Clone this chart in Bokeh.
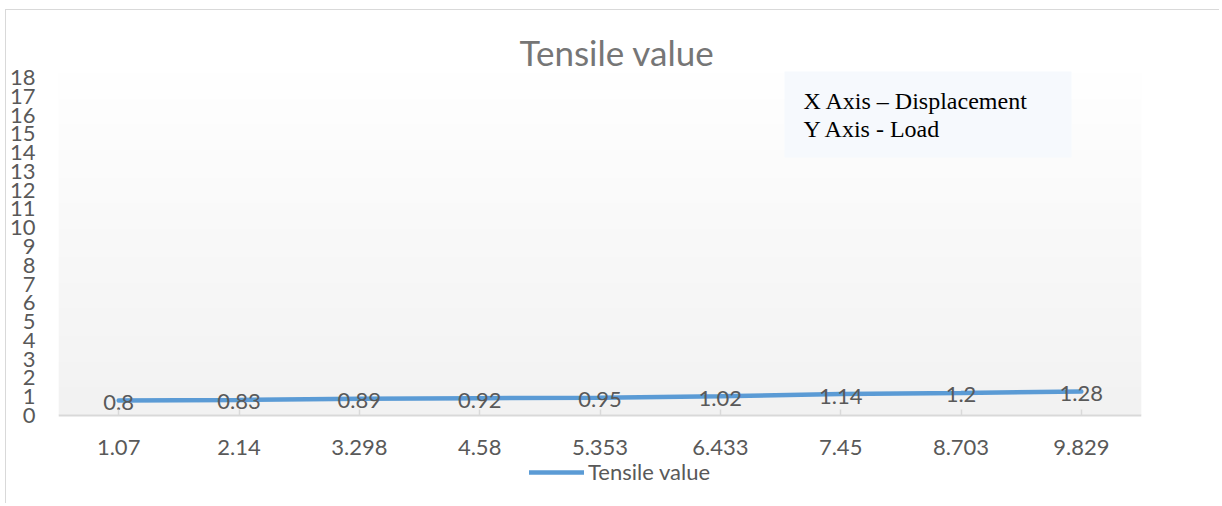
import numpy as np
from bokeh.plotting import figure
from bokeh.models import (FactorRange, Range1d, FixedTicker, Legend, LegendItem,
                          Label, BoxAnnotation)
from bokeh.core.properties import value
from bokeh.embed import file_html
from bokeh.resources import INLINE

# ---- data ----
displacement = ["1.07", "2.14", "3.298", "4.58", "5.353", "6.433", "7.45", "8.703", "9.829"]
tensile = [0.8, 0.83, 0.89, 0.92, 0.95, 1.02, 1.14, 1.2, 1.28]
tensile_labels = ["0.8", "0.83", "0.89", "0.92", "0.95", "1.02", "1.14", "1.2", "1.28"]
y_ticks = list(range(0, 19))
series_name = "Tensile value"
chart_title = "Tensile value"
note_lines = ["X Axis \u2013 Displacement", "Y Axis - Load"]
y_max = 18

FONT = "Lato"
TXT = "#595959"
LINE = "#5B9BD5"
GRID = "#d9d9d9"

# figure content origin at (6, 10) of the page; frame spans full height, x axis pinned at y=0
W, H = 1214, 494
PX = 338 / 18.0            # pixels per unit
FB = 504                   # frame bottom (page px)
y_lo = -(FB - 415) / PX
y_hi = y_max + (77 - 10) / PX
plot_top = y_max + 6 / PX

p = figure(width=W, height=H, output_backend="svg", toolbar_location=None,
           x_range=FactorRange(*displacement, range_padding=0),
           y_range=Range1d(y_lo, y_hi),
           min_border_left=51, min_border_right=79, min_border_top=0, min_border_bottom=0)
p.outline_line_color = None
p.xgrid.visible = False
p.ygrid.visible = False
p.background_fill_color = "white"
p.border_fill_color = "white"
p.styles = {"margin-left": "5px", "margin-top": "9px",
            "border-top": "1px solid #d9d9d9", "border-left": "1px solid #d9d9d9"}

# plot-area gradient (white top -> light gray bottom)
n = 200
g = np.linspace(242, 255, n).astype(np.uint32)
img = np.empty((n, 1), dtype=np.uint32)
view = img.view(dtype=np.uint8).reshape((n, 1, 4))
view[:, 0, 0] = g
view[:, 0, 1] = g
view[:, 0, 2] = g
view[:, 0, 3] = 255
p.image_rgba(image=[img], x=0, y=0, dw=len(displacement), dh=plot_top)

# axes
p.yaxis.ticker = FixedTicker(ticks=y_ticks)
p.yaxis.axis_line_color = None
p.yaxis.major_tick_line_color = None
p.yaxis.minor_tick_line_color = None
p.yaxis.major_tick_out = 0
p.yaxis.major_tick_in = 0
p.yaxis.major_label_standoff = 23
p.yaxis.major_label_text_font = FONT
p.yaxis.major_label_text_font_size = "22px"
p.yaxis.major_label_text_color = TXT

p.xaxis.fixed_location = 0
p.xaxis.axis_line_color = GRID
p.xaxis.axis_line_width = 2
p.xaxis.major_tick_line_color = GRID
p.xaxis.major_tick_line_width = 1.5
p.xaxis.major_tick_in = 6
p.xaxis.major_tick_out = 0
p.xaxis.minor_tick_line_color = None
p.xaxis.major_label_standoff = 24
p.xaxis.major_label_text_font = FONT
p.xaxis.major_label_text_font_size = "22px"
p.xaxis.major_label_text_color = TXT

# series
r = p.line(x=displacement, y=tensile, line_width=4.5, line_color=LINE, line_cap="round")
p.text(x=displacement, y=tensile, text=tensile_labels, text_align="center",
       text_baseline="middle", y_offset=2, text_font=value(FONT),
       text_font_size="22px", text_color=TXT)

legend = Legend(items=[LegendItem(label=series_name, renderers=[r])],
                location=(471, FB - 485), orientation="horizontal",
                glyph_width=55, glyph_height=20, label_height=20, label_standoff=4,
                padding=0, margin=0, border_line_color=None, background_fill_alpha=0,
                label_text_font=FONT, label_text_font_size="22px", label_text_color=TXT)
p.add_layout(legend)

# title
p.add_layout(Label(x=558.5, y=FB - 51.5, x_units="screen", y_units="screen", text=chart_title,
                   text_align="center", text_baseline="middle", text_font=FONT,
                   text_font_size="35px", text_color="#767676"))

# note box
p.add_layout(BoxAnnotation(left=726, right=1013, bottom=FB - 157, top=FB - 71,
                           left_units="screen", right_units="screen",
                           bottom_units="screen", top_units="screen",
                           fill_color="#f6f9fd", fill_alpha=1, line_color=None))
p.add_layout(Label(x=745, y=FB - 100, x_units="screen", y_units="screen", text=note_lines[0],
                   text_baseline="middle", text_font="Liberation Serif",
                   text_font_size="24px", text_color="black"))
p.add_layout(Label(x=745, y=FB - 128, x_units="screen", y_units="screen", text=note_lines[1],
                   text_baseline="middle", text_font="Liberation Serif",
                   text_font_size="24px", text_color="black"))

open("out.html", "w").write(file_html(p, INLINE))
